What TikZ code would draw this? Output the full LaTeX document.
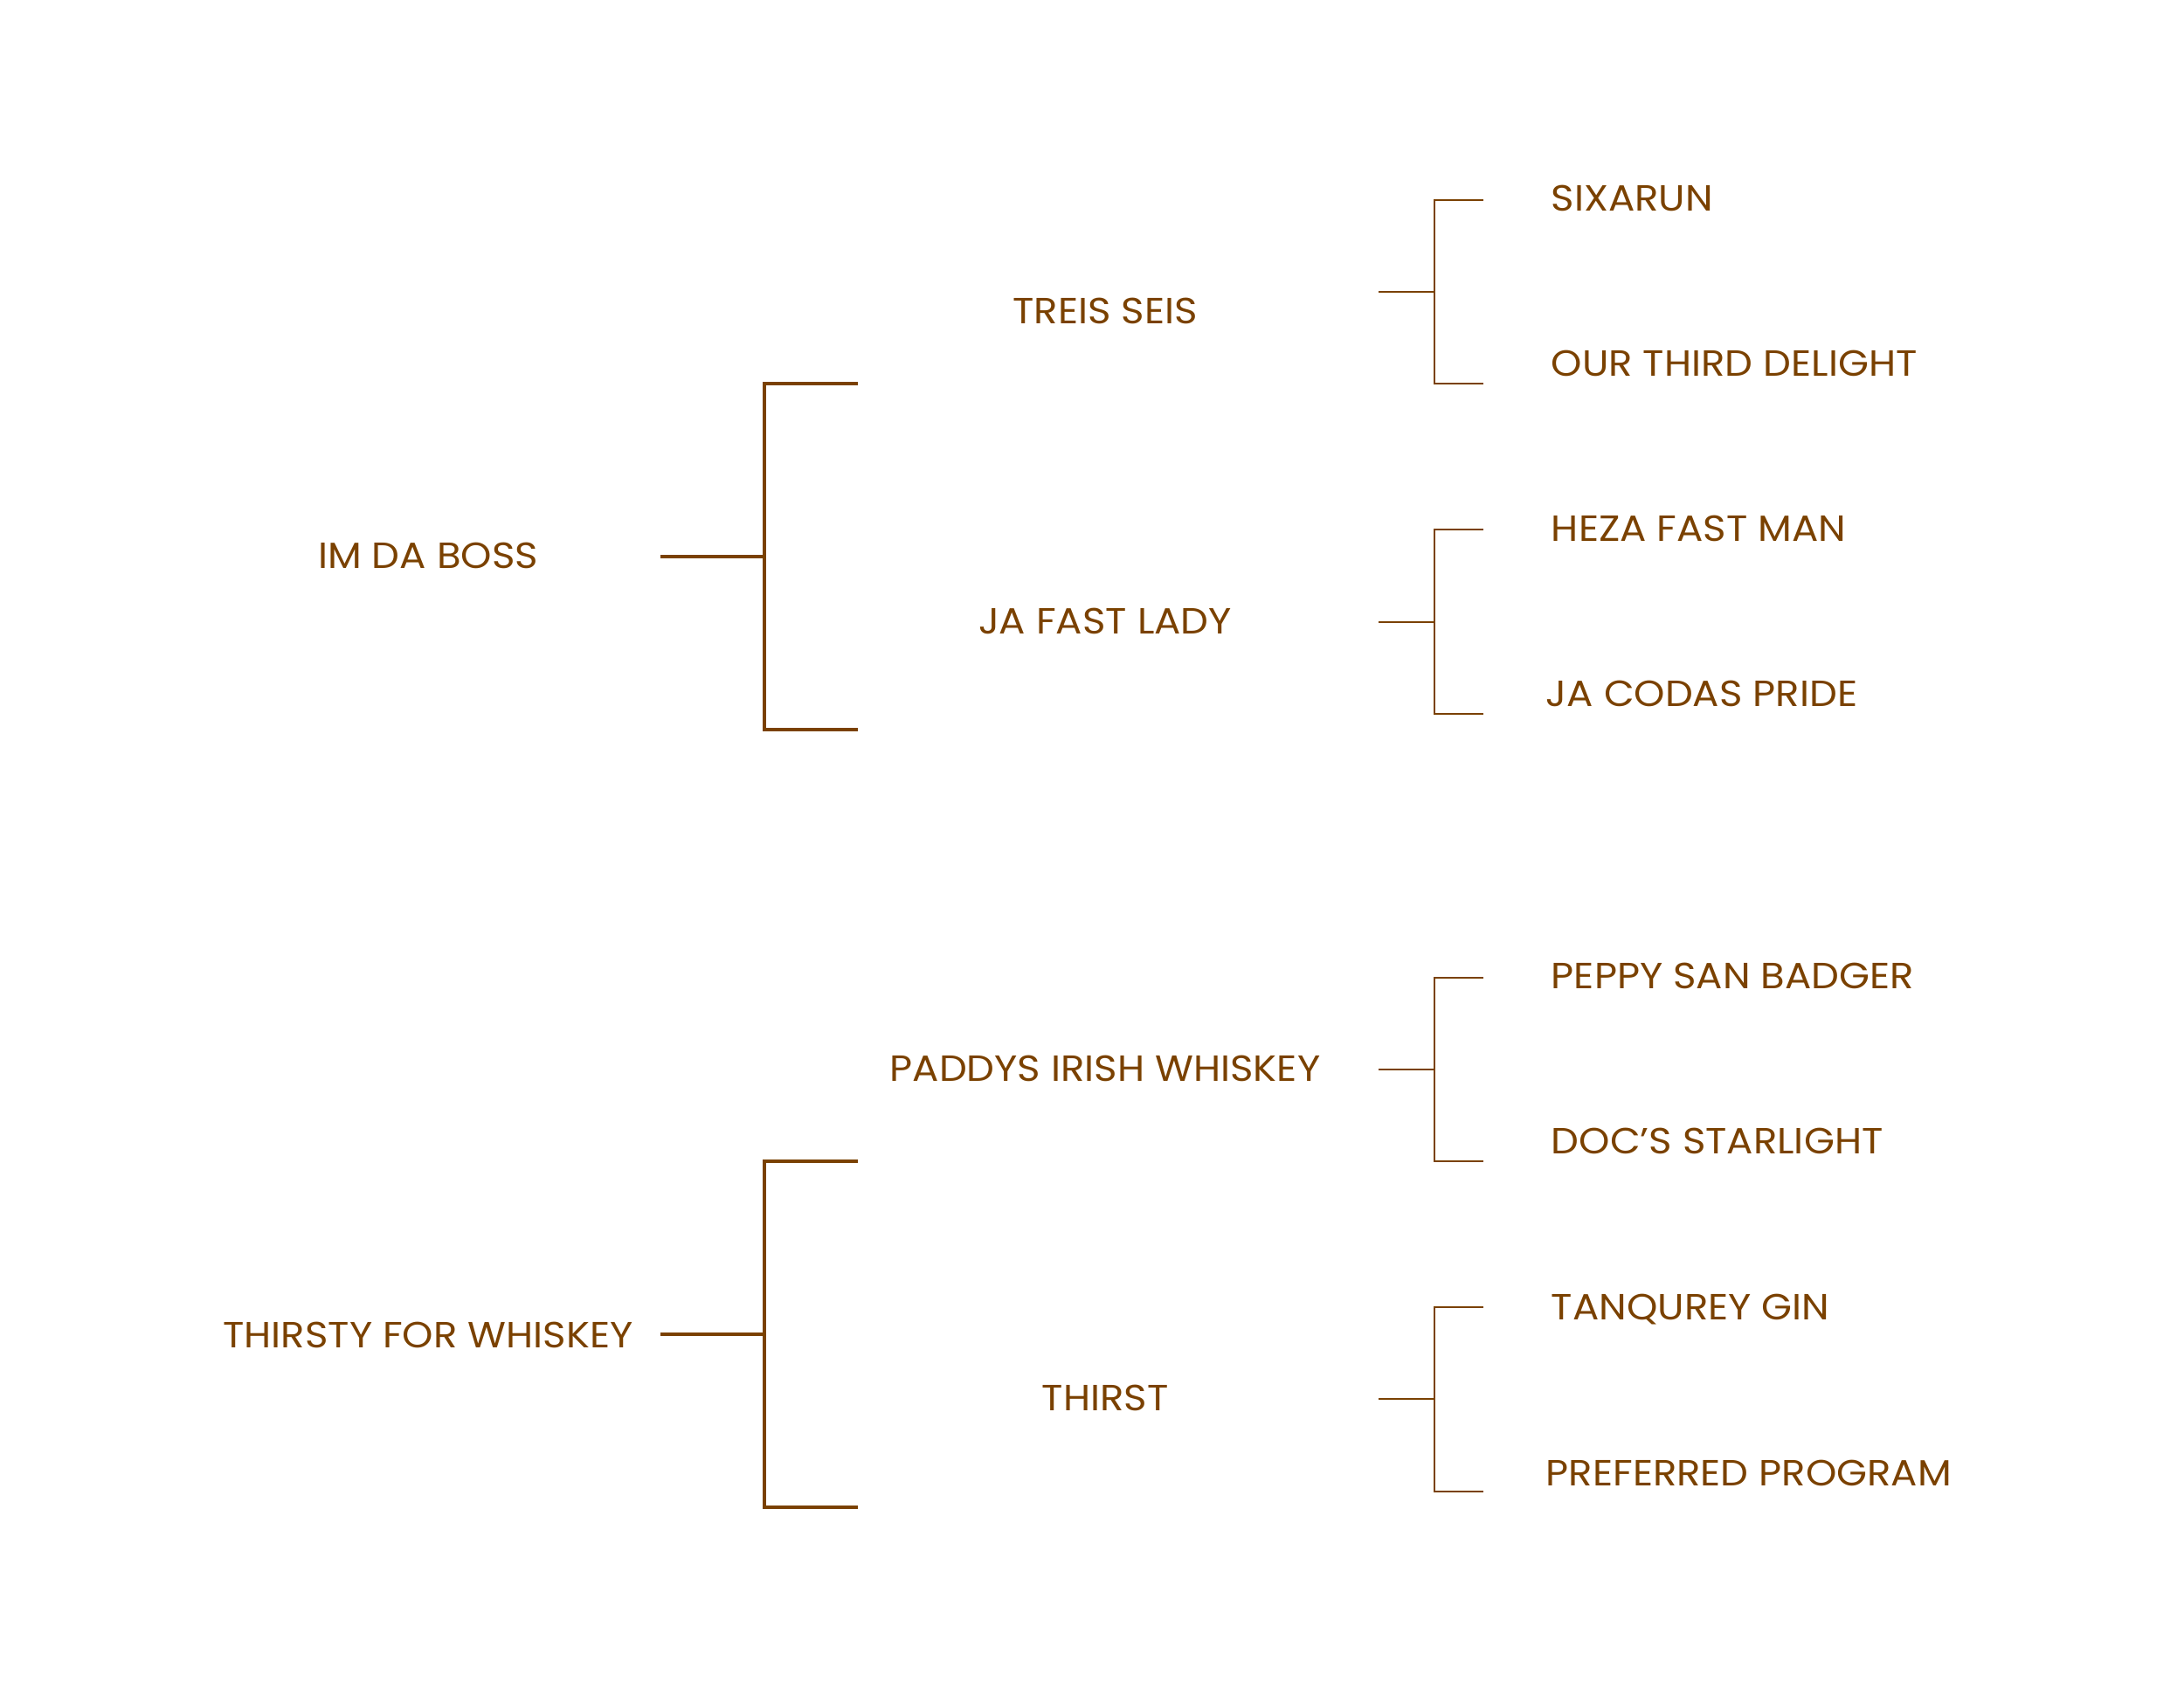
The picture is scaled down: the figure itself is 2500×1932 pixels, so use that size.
\documentclass[tikz,border=0pt]{standalone}
\usepackage{fontspec}
\setmainfont[FakeStretch=1.08]{Poppins}
\definecolor{brn}{HTML}{7A4100}
\begin{document}
\begin{tikzpicture}[x=0.24pt,y=-0.24pt,
  lbl/.style={font=\fontsize{10}{12}\selectfont, text=brn, inner sep=0pt},
  big/.style={draw=brn, line width=0.8pt},
  small/.style={draw=brn, line width=0.45pt}]
\useasboundingbox (0,0) rectangle (2500,1932);
% level 1
\node[lbl, anchor=base] (boss) at (490,650) {IM DA BOSS};
\node[lbl, anchor=base] (thirsty) at (490,1542) {THIRSTY FOR WHISKEY};
% level 2
\node[lbl, anchor=base] (treis) at (1265,370) {TREIS SEIS};
\node[lbl, anchor=base] (jafast) at (1265,725) {JA FAST LADY};
\node[lbl, anchor=base] (paddys) at (1265,1237) {PADDYS IRISH WHISKEY};
\node[lbl, anchor=base] (thirst) at (1265,1614) {THIRST};
% level 3
\node[lbl, anchor=base west] (six) at (1775,241) {SIXARUN};
\node[lbl, anchor=base west] (our) at (1775,430) {OUR THIRD DELIGHT};
\node[lbl, anchor=base west] (heza) at (1775,619) {HEZA FAST MAN};
\node[lbl, anchor=base west] (coda) at (1769,808) {JA CODAS PRIDE};
\node[lbl, anchor=base west] (peppy) at (1775,1131) {PEPPY SAN BADGER};
\node[lbl, anchor=base west] (doc) at (1775,1320) {DOC’S STARLIGHT};
\node[lbl, anchor=base west] (tanq) at (1775,1510) {TANQUREY GIN};
\node[lbl, anchor=base west] (pref) at (1769,1700) {PREFERRED PROGRAM};
% big bracket coordinates
\coordinate (bA) at (756,637);  \coordinate (vA) at (875,637);
\coordinate (tA) at (982,439);  \coordinate (uA) at (982,835);
\coordinate (bB) at (756,1527); \coordinate (vB) at (875,1527);
\coordinate (tB) at (982,1329); \coordinate (uB) at (982,1725);
\draw[big] (bA) -- (vA);
\draw[big] (tA) -- (vA |- tA) -- (vA |- uA) -- (uA);
\draw[big] (bB) -- (vB);
\draw[big] (tB) -- (vB |- tB) -- (vB |- uB) -- (uB);
% small brackets
\foreach \n/\t/\m/\b in {s1/229/334/439, s2/606/712/817, s3/1119/1224/1329, s4/1496/1601/1707}{
  \coordinate (\n-stub) at (1578,\m);
  \coordinate (\n-v) at (1642,\m);
  \coordinate (\n-top) at (1698,\t);
  \coordinate (\n-bot) at (1698,\b);
  \draw[small] (\n-stub) -- (\n-v);
  \draw[small] (\n-top) -- (\n-v |- \n-top) -- (\n-v |- \n-bot) -- (\n-bot);
}
\end{tikzpicture}
\end{document}
